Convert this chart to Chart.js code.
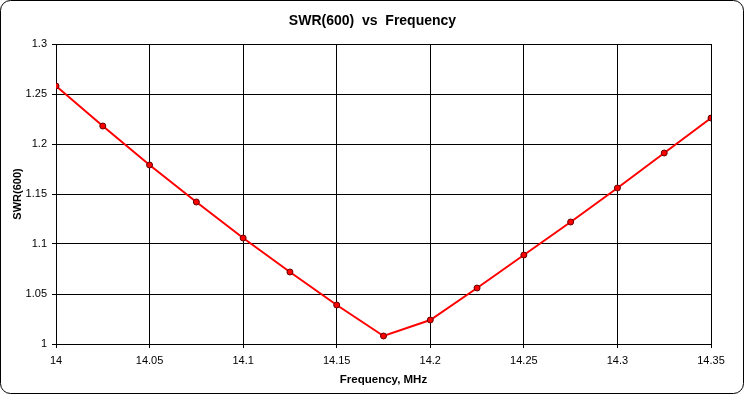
<!DOCTYPE html>
<html>
<head>
<meta charset="utf-8">
<script src="https://cdn.jsdelivr.net/npm/chart.js@4"></script>
<style>
  html, body { margin: 0; padding: 0; background: #fff; }
  #wrap { position: relative; width: 745px; height: 395px; }
</style>
</head>
<body>
<div id="wrap"><canvas id="swr" width="745" height="395"></canvas></div>
<script>
// frequência (MHz) e SWR(600)
const freqs = [14, 14.025, 14.05, 14.075, 14.1, 14.125, 14.15, 14.175, 14.2, 14.225, 14.25, 14.275, 14.3, 14.325, 14.35];
const swr   = [1.258, 1.218, 1.179, 1.142, 1.106, 1.072, 1.039, 1.008, 1.024, 1.056, 1.089, 1.122, 1.156, 1.191, 1.226];
const xTicks = [14, 14.05, 14.1, 14.15, 14.2, 14.25, 14.3, 14.35];
const yTicks = [1, 1.05, 1.1, 1.15, 1.2, 1.25, 1.3];

const FONTE = "'Liberation Sans', Arial, sans-serif";

// moldura arredondada em volta do gráfico todo
const moldura = {
  id: "moldura",
  afterDraw(chart) {
    const ctx = chart.ctx;
    ctx.save();
    ctx.strokeStyle = "#000";
    ctx.lineWidth = 1;
    ctx.beginPath();
    ctx.roundRect(0.5, 0.5, 743, 393, 10);
    ctx.stroke();
    ctx.restore();
  },
};

new Chart(document.getElementById("swr"), {
  type: "line",
  data: {
    datasets: [{
      data: freqs.map((f, i) => ({ x: f, y: swr[i] })),
      borderColor: "#ff0000",
      borderWidth: 2,
      pointRadius: 3,
      pointBackgroundColor: "#ff0000",
      pointBorderColor: "#600000",
      pointBorderWidth: 1,
      tension: 0,
    }],
  },
  options: {
    responsive: false,
    animation: false,
    events: [],
    layout: { padding: 0 },
    plugins: {
      legend: { display: false },
      tooltip: { enabled: false },
      title: {
        display: true,
        text: "SWR(600)  vs  Frequency",
        color: "#000",
        font: { family: FONTE, size: 14, weight: "bold", lineHeight: 1 },
        padding: { top: 14, bottom: 16 },
      },
    },
    scales: {
      x: {
        type: "linear",
        min: 14,
        max: 14.35,
        afterBuildTicks(scale) { scale.ticks = xTicks.map(v => ({ value: v })); },
        afterFit(scale) { scale.height = 51; },
        grid: { color: "#000", lineWidth: 1, tickLength: 4 },
        border: { color: "#000", width: 1 },
        ticks: {
          color: "#000",
          font: { family: FONTE, size: 11 },
          padding: 6,
          maxRotation: 0,
          callback: v => String(+v.toFixed(3)),
        },
        title: {
          display: true,
          text: "Frequency, MHz",
          color: "#000",
          font: { family: FONTE, size: 11.5, weight: "bold" },
          padding: { top: 0, bottom: 8 },
        },
      },
      y: {
        min: 1,
        max: 1.3,
        afterBuildTicks(scale) { scale.ticks = yTicks.map(v => ({ value: v })); },
        afterFit(scale) { scale.width = 56; },
        grid: { color: "#000", lineWidth: 1, tickLength: 4 },
        border: { color: "#000", width: 1 },
        ticks: {
          color: "#000",
          font: { family: FONTE, size: 11 },
          padding: 5,
          callback: v => String(+v.toFixed(3)),
        },
        title: {
          display: true,
          text: "SWR(600)",
          color: "#000",
          font: { family: FONTE, size: 11, weight: "bold" },
          padding: { top: 11, bottom: 0 },
        },
      },
      // eixo vazio à direita só pra reservar a margem e manter o título centrado no quadro
      margem: {
        position: "right",
        min: 0,
        max: 1,
        afterFit(scale) { scale.width = 34; },
        grid: { display: false },
        border: { display: false },
        ticks: { display: false },
      },
    },
  },
  plugins: [moldura],
});
</script>
</body>
</html>
